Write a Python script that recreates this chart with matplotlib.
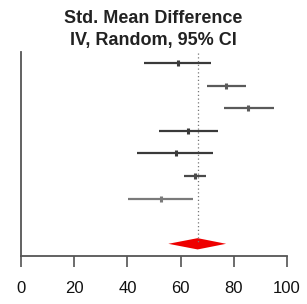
import matplotlib
matplotlib.use("Agg")
import matplotlib.pyplot as plt

# Data (standardized mean differences with 95% CI)
est = [58.9, 77.1, 85.4, 62.9, 58.2, 65.5, 52.6]
lo = [46.2, 70.0, 76.3, 52.0, 43.5, 61.4, 40.2]
hi = [71.4, 84.6, 95.1, 74.2, 72.3, 69.4, 64.5]
pooled = 66.4
pooled_lo = 55.4
pooled_hi = 77.1
xticks = [0, 20, 40, 60, 80, 100]
title_lines = ["Std. Mean Difference", "IV, Random, 95% CI"]

colors = ["#3a3a3a", "#5a5a5a", "#5a5a5a", "#3a3a3a", "#3a3a3a", "#4a4a4a", "#7a7a7a"]

plt.rcParams['font.family'] = ['Liberation Sans', 'DejaVu Sans']
fig = plt.figure(figsize=(3.07, 3.04), dpi=100)
W, H = 307, 304
ax = fig.add_axes([21 / W, (H - 256) / H, (287 - 21) / W, (256 - 52) / H])

for i, (e, l, h) in enumerate(zip(est, lo, hi)):
    ax.plot([l, h], [i, i], color=colors[i], lw=1.6, solid_capstyle='butt')
    ax.plot([e], [i], marker='|', ms=5, mew=2.2, color=colors[i])

drow = 8
ax.plot([pooled, pooled], [-0.45, drow], color="#777777", lw=0.9, ls=(0, (1, 2)))
ax.fill([pooled_lo, pooled, pooled_hi, pooled], [drow, drow - 0.25, drow, drow + 0.25],
        color="#ee0000", lw=0)

ax.set_xlim(0, 100)
ax.set_ylim(8.54, -0.49)
ax.set_xticks(xticks)
ax.set_xticklabels([str(t) for t in xticks])
ax.set_yticks([])
for s in ['top', 'right']:
    ax.spines[s].set_visible(False)
for s in ['left', 'bottom']:
    ax.spines[s].set_color("#555555")
    ax.spines[s].set_linewidth(1.3)
ax.tick_params(axis='x', length=8, width=1.1, color="#444444", labelsize=12,
               pad=10, labelcolor="#111111")

fig.text(153 / W, 1 - 18.5 / H, title_lines[0], ha='center', va='center',
         fontsize=13, fontweight='bold', color="#222222")
fig.text(153 / W, 1 - 40 / H, title_lines[1], ha='center', va='center',
         fontsize=13, fontweight='bold', color="#222222")

fig.savefig("out.png", dpi=100)
